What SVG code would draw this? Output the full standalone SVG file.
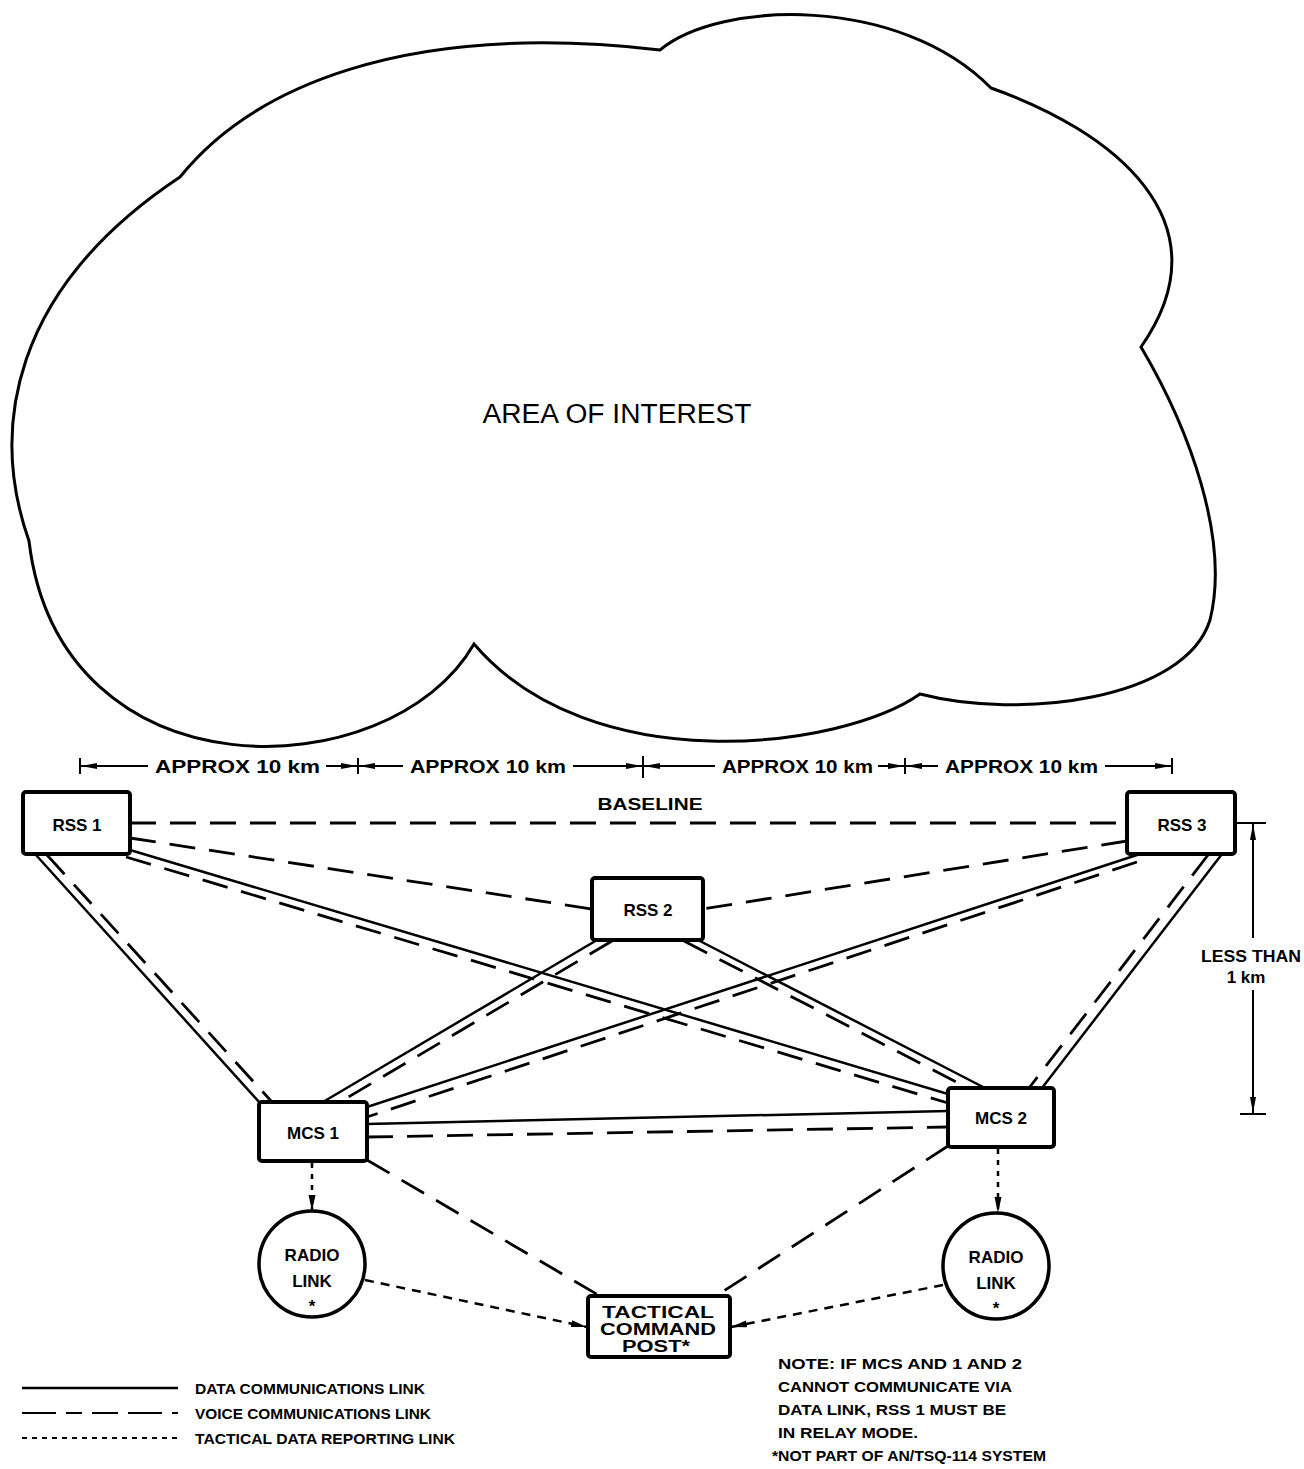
<svg xmlns="http://www.w3.org/2000/svg" width="1304" height="1469" viewBox="0 0 1304 1469">
<defs>
<style>
text{font-family:"Liberation Sans",Arial,sans-serif;font-weight:bold;fill:#000}
.lbl{font-size:17px;text-anchor:middle}
.tcpl{font-size:16px;text-anchor:middle}
.dim{font-size:19px}
.leg{font-size:15px}
.note{font-size:15px}
.box{fill:#fff;stroke:#000;stroke-width:4}
.circ{fill:#fff;stroke:#000;stroke-width:3.5}
.data{stroke:#000;stroke-width:2.5;fill:none}
.voice{stroke:#000;stroke-width:2.8;fill:none;stroke-dasharray:26 14}
.tact{stroke:#000;stroke-width:2.5;fill:none;stroke-dasharray:9 7}
.dot{stroke:#000;stroke-width:2.5;fill:none;stroke-dasharray:5 6}
.thin{stroke:#000;stroke-width:2;fill:none}
</style>
<marker id="ah" viewBox="0 0 16 8" refX="16" refY="4" markerWidth="16" markerHeight="8" markerUnits="userSpaceOnUse" orient="auto-start-reverse">
<path d="M0,1 L16,4 L0,7 Z" fill="#000"/>
</marker>
<marker id="ta" viewBox="0 0 16 8" refX="16" refY="4" markerWidth="16" markerHeight="8" markerUnits="userSpaceOnUse" orient="auto">
<path d="M0,0.5 L16,4 L0,7.5 Z" fill="#000"/>
</marker>
</defs>
<rect width="1304" height="1469" fill="#fff"/>

<g id="area">
<path d="M180 177 C250 90 400 20 660 50 C720 0 900 -5 991 88 C1110 130 1230 220 1141 347 C1190 430 1230 540 1210 620 C1185 700 1020 720 920 694 C840 750 590 780 474 644 C390 790 60 800 29 541 C-10 430 10 290 180 177 Z" fill="none" stroke="#000" stroke-width="3"/>
<text x="617" y="423" style="font-weight:normal;font-size:27px" text-anchor="middle" textLength="269" lengthAdjust="spacingAndGlyphs">AREA OF INTEREST</text>
</g>

<g id="dimensions">
<line class="thin" x1="80" y1="758" x2="80" y2="774"/>
<line class="thin" x1="358" y1="758" x2="358" y2="774"/>
<line class="thin" x1="643" y1="756" x2="643" y2="778"/>
<line class="thin" x1="905" y1="758" x2="905" y2="774"/>
<line class="thin" x1="1172" y1="758" x2="1172" y2="774"/>
<line class="thin" x1="148" y1="766" x2="81" y2="766" marker-end="url(#ah)"/>
<line class="thin" x1="326" y1="766" x2="357" y2="766" marker-end="url(#ah)"/>
<line class="thin" x1="403" y1="766" x2="359" y2="766" marker-end="url(#ah)"/>
<line class="thin" x1="573" y1="766" x2="642" y2="766" marker-end="url(#ah)"/>
<line class="thin" x1="715" y1="766" x2="644" y2="766" marker-end="url(#ah)"/>
<line class="thin" x1="878" y1="766" x2="904" y2="766" marker-end="url(#ah)"/>
<line class="thin" x1="938" y1="766" x2="906" y2="766" marker-end="url(#ah)"/>
<line class="thin" x1="1105" y1="766" x2="1171" y2="766" marker-end="url(#ah)"/>
<text class="dim" x="155" y="773" textLength="165" lengthAdjust="spacingAndGlyphs">APPROX 10 km</text>
<text class="dim" x="410" y="773" textLength="156" lengthAdjust="spacingAndGlyphs">APPROX 10 km</text>
<text class="dim" x="722" y="773" textLength="151" lengthAdjust="spacingAndGlyphs">APPROX 10 km</text>
<text class="dim" x="945" y="773" textLength="153" lengthAdjust="spacingAndGlyphs">APPROX 10 km</text>
<text class="lbl" x="650" y="810" textLength="105" lengthAdjust="spacingAndGlyphs">BASELINE</text>
<line class="thin" x1="1237" y1="823" x2="1266" y2="823"/>
<line class="thin" x1="1253" y1="938" x2="1253" y2="824" marker-end="url(#ah)"/>
<line class="thin" x1="1253" y1="990" x2="1253" y2="1113" marker-end="url(#ah)"/>
<line class="thin" x1="1240" y1="1114" x2="1266" y2="1114"/>
<text class="lbl" x="1251" y="962" textLength="100" lengthAdjust="spacingAndGlyphs">LESS THAN</text>
<text class="lbl" x="1246" y="983">1 km</text>
</g>

<g id="connectors">
<line class="voice" x1="130" y1="823" x2="1127" y2="823"/>
<line class="voice" x1="130" y1="838" x2="592" y2="909"/>
<line class="voice" x1="1127" y1="841" x2="703" y2="909"/>
<line class="data" x1="36" y1="855" x2="260" y2="1103"/>
<line class="voice" x1="47" y1="855" x2="272" y2="1102"/>
<line class="data" x1="130" y1="850" x2="948" y2="1094"/>
<line class="voice" x1="126" y1="857" x2="948" y2="1103"/>
<line class="data" x1="1140" y1="854" x2="367" y2="1107"/>
<line class="voice" x1="1137" y1="862" x2="367" y2="1117"/>
<line class="data" x1="597" y1="940" x2="323" y2="1102"/>
<line class="voice" x1="612" y1="941" x2="340" y2="1102"/>
<line class="data" x1="698" y1="940" x2="985" y2="1088"/>
<line class="voice" x1="684" y1="941" x2="968" y2="1088"/>
<line class="data" x1="1222" y1="854" x2="1042" y2="1088"/>
<line class="voice" x1="1208" y1="855" x2="1029" y2="1088"/>
<line class="data" x1="367" y1="1124" x2="948" y2="1111"/>
<line class="voice" x1="367" y1="1137" x2="948" y2="1127"/>
<line class="voice" x1="367" y1="1160" x2="600" y2="1296"/>
<line class="voice" x1="948" y1="1146" x2="716" y2="1296"/>
<line class="dot" x1="312" y1="1163" x2="312" y2="1211" marker-end="url(#ta)"/>
<line class="dot" x1="998" y1="1149" x2="998" y2="1213" marker-end="url(#ta)"/>
<line class="tact" x1="365" y1="1280" x2="587" y2="1327" marker-end="url(#ta)"/>
<line class="tact" x1="943" y1="1285" x2="731" y2="1327" marker-end="url(#ta)"/>
</g>

<g id="rss1"><rect class="box" x="23" y="792" width="107" height="62" rx="3"/><text class="lbl" x="77" y="831">RSS 1</text></g>
<g id="rss2"><rect class="box" x="592" y="878" width="111" height="62" rx="3"/><text class="lbl" x="648" y="916">RSS 2</text></g>
<g id="rss3"><rect class="box" x="1127" y="792" width="108" height="62" rx="3"/><text class="lbl" x="1182" y="831">RSS 3</text></g>
<g id="mcs1"><rect class="box" x="259" y="1102" width="108" height="59" rx="3"/><text class="lbl" x="313" y="1139">MCS 1</text></g>
<g id="mcs2"><rect class="box" x="948" y="1088" width="106" height="59" rx="3"/><text class="lbl" x="1001" y="1124">MCS 2</text></g>
<g id="radio1"><circle class="circ" cx="312" cy="1264" r="53"/><text class="lbl" x="312" y="1261">RADIO</text><text class="lbl" x="312" y="1287">LINK</text><text class="lbl" x="312" y="1312">*</text></g>
<g id="radio2"><circle class="circ" cx="996" cy="1266" r="53"/><text class="lbl" x="996" y="1263">RADIO</text><text class="lbl" x="996" y="1289">LINK</text><text class="lbl" x="996" y="1314">*</text></g>
<g id="tcp"><rect class="box" x="588" y="1296" width="142" height="61" rx="3"/><text class="tcpl" x="658" y="1318" textLength="112" lengthAdjust="spacingAndGlyphs">TACTICAL</text><text class="tcpl" x="658" y="1335" textLength="116" lengthAdjust="spacingAndGlyphs">COMMAND</text><text class="tcpl" x="656" y="1352" textLength="68" lengthAdjust="spacingAndGlyphs">POST*</text></g>

<g id="legend">
<line class="data" x1="22" y1="1388" x2="178" y2="1388"/>
<line class="thin" x1="22" y1="1413" x2="178" y2="1413" stroke-width="2.5" stroke-dasharray="34 10 16 10 26 10"/>
<line class="thin" x1="22" y1="1438" x2="178" y2="1438" stroke-width="2.5" stroke-dasharray="5 5"/>
<text class="leg" x="195" y="1394" textLength="230" lengthAdjust="spacingAndGlyphs">DATA COMMUNICATIONS LINK</text>
<text class="leg" x="195" y="1419" textLength="236" lengthAdjust="spacingAndGlyphs">VOICE COMMUNICATIONS LINK</text>
<text class="leg" x="195" y="1444" textLength="260" lengthAdjust="spacingAndGlyphs">TACTICAL DATA REPORTING LINK</text>
</g>

<g id="note">
<text class="note" x="778" y="1369" textLength="244" lengthAdjust="spacingAndGlyphs">NOTE:  IF MCS AND 1 AND 2</text>
<text class="note" x="778" y="1392" textLength="234" lengthAdjust="spacingAndGlyphs">CANNOT COMMUNICATE VIA</text>
<text class="note" x="778" y="1415" textLength="228" lengthAdjust="spacingAndGlyphs">DATA LINK, RSS 1 MUST BE</text>
<text class="note" x="778" y="1438" textLength="140" lengthAdjust="spacingAndGlyphs">IN RELAY MODE.</text>
<text class="note" x="772" y="1461" textLength="274" lengthAdjust="spacingAndGlyphs">*NOT PART OF AN/TSQ-114 SYSTEM</text>
</g>
</svg>
